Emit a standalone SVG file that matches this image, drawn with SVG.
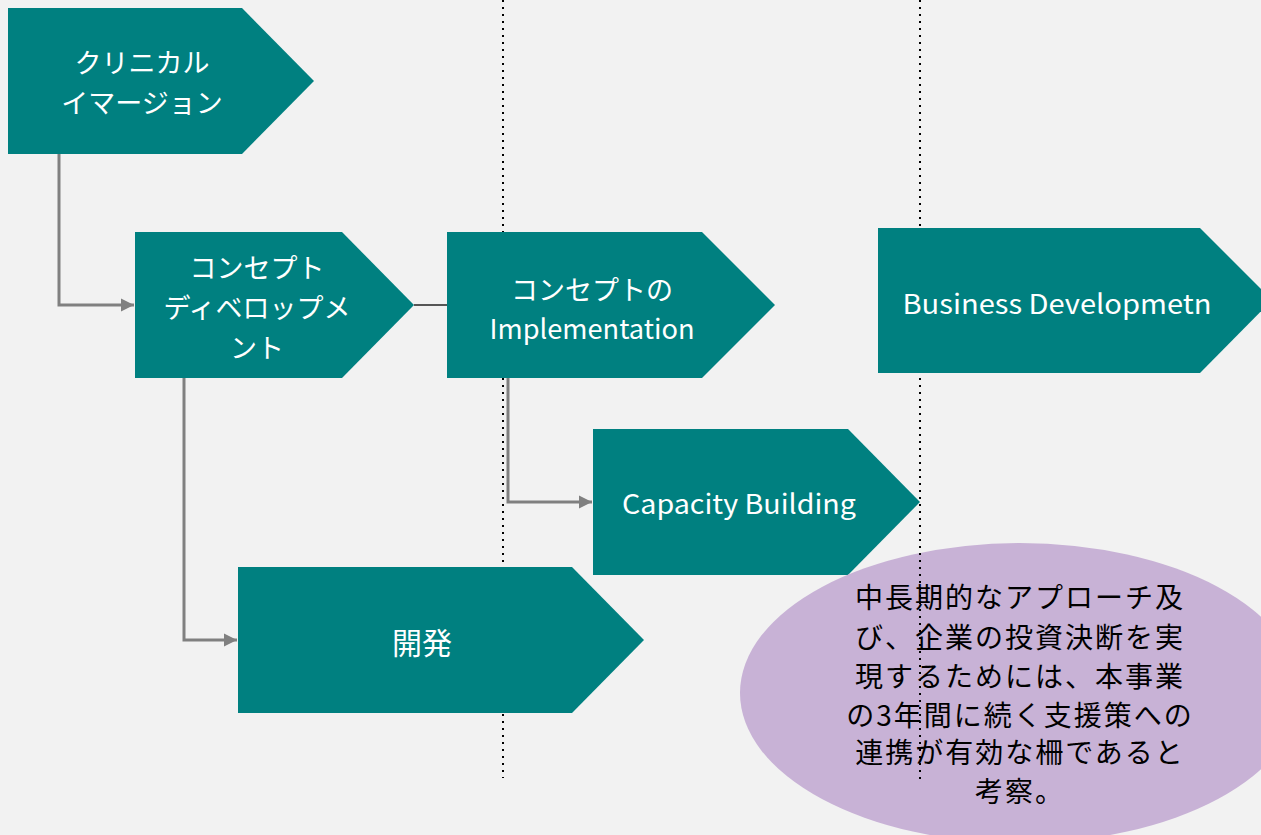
<svg xmlns="http://www.w3.org/2000/svg" width="1261" height="835" viewBox="0 0 1261 835">
<style>
.node{fill:#008080;}
.lbl{fill:#ffffff;font-family:"Noto Sans CJK JP","Liberation Sans",sans-serif;font-size:27px;text-anchor:middle;}
.conn{fill:none;stroke:#808080;stroke-width:3;}
.dot{fill:none;stroke:#000;stroke-width:2;stroke-dasharray:2 5;}
.note{fill:#000;font-family:"Noto Sans CJK JP",sans-serif;font-size:28px;text-anchor:middle;letter-spacing:2px;}
</style>
<defs>
<marker id="ah" viewBox="0 0 10 10" refX="10" refY="5" markerWidth="4.5" markerHeight="4.5" orient="auto" markerUnits="strokeWidth">
<path d="M0,0 L10,5 L0,10 Z" fill="#808080"/>
</marker>
</defs>
<rect width="1261" height="835" fill="#f2f2f2"/>
<line class="dot" x1="503" y1="0" x2="503" y2="778"/>
<g id="connectors">
<polyline class="conn" points="59,154 59,305 134,305" marker-end="url(#ah)"/>
<polyline class="conn" points="184,378 184,640 237,640" marker-end="url(#ah)"/>
<polyline class="conn" points="508,378 508,502 592,502" marker-end="url(#ah)"/>
<line x1="414" y1="305" x2="447" y2="305" stroke="#222" stroke-width="1.5"/>
</g>
<g id="n1">
<polygon class="node" points="8,8 242,8 314,81 242,154 8,154"/>
<text class="lbl" x="142" y="73">クリニカル</text>
<text class="lbl" x="142" y="113">イマージョン</text>
</g>
<g id="n2">
<polygon class="node" points="135,232 342,232 414,305 342,378 135,378"/>
<text class="lbl" x="257" y="278">コンセプト</text>
<text class="lbl" x="257" y="318">ディベロップメ</text>
<text class="lbl" x="257" y="358">ント</text>
</g>
<g id="n3">
<polygon class="node" points="447,232 702,232 775,305 702,378 447,378"/>
<text class="lbl" x="592" y="300">コンセプトの</text>
<text class="lbl" x="592" y="339" textLength="205" lengthAdjust="spacingAndGlyphs">Implementation</text>
</g>
<g id="n5">
<polygon class="node" points="593,429 848,429 920,502 848,575 593,575"/>
<text class="lbl" x="739" y="514" textLength="234" lengthAdjust="spacingAndGlyphs">Capacity Building</text>
</g>
<g id="n6">
<polygon class="node" points="238,567 572,567 644,640 572,713 238,713"/>
<text class="lbl" x="422" y="654" style="font-size:30px">開発</text>
</g>
<g id="note">
<ellipse cx="1020" cy="693" rx="280" ry="150" fill="#c8b2d6"/>
<text class="note" x="1020" y="608">中長期的なアプローチ及</text>
<text class="note" x="1020" y="648">び、企業の投資決断を実</text>
<text class="note" x="1020" y="687">現するためには、本事業</text>
<text class="note" x="1020" y="726">の3年間に続く支援策への</text>
<text class="note" x="1020" y="763">連携が有効な柵であると</text>
<text class="note" x="1020" y="802">考察。</text>
</g>
<line class="dot" x1="920" y1="0" x2="920" y2="780"/>
<g id="n4">
<polygon class="node" points="878,228 1200,228 1272,300 1200,373 878,373"/>
<text class="lbl" x="1057" y="314" textLength="309" lengthAdjust="spacingAndGlyphs">Business Developmetn</text>
</g>
</svg>
